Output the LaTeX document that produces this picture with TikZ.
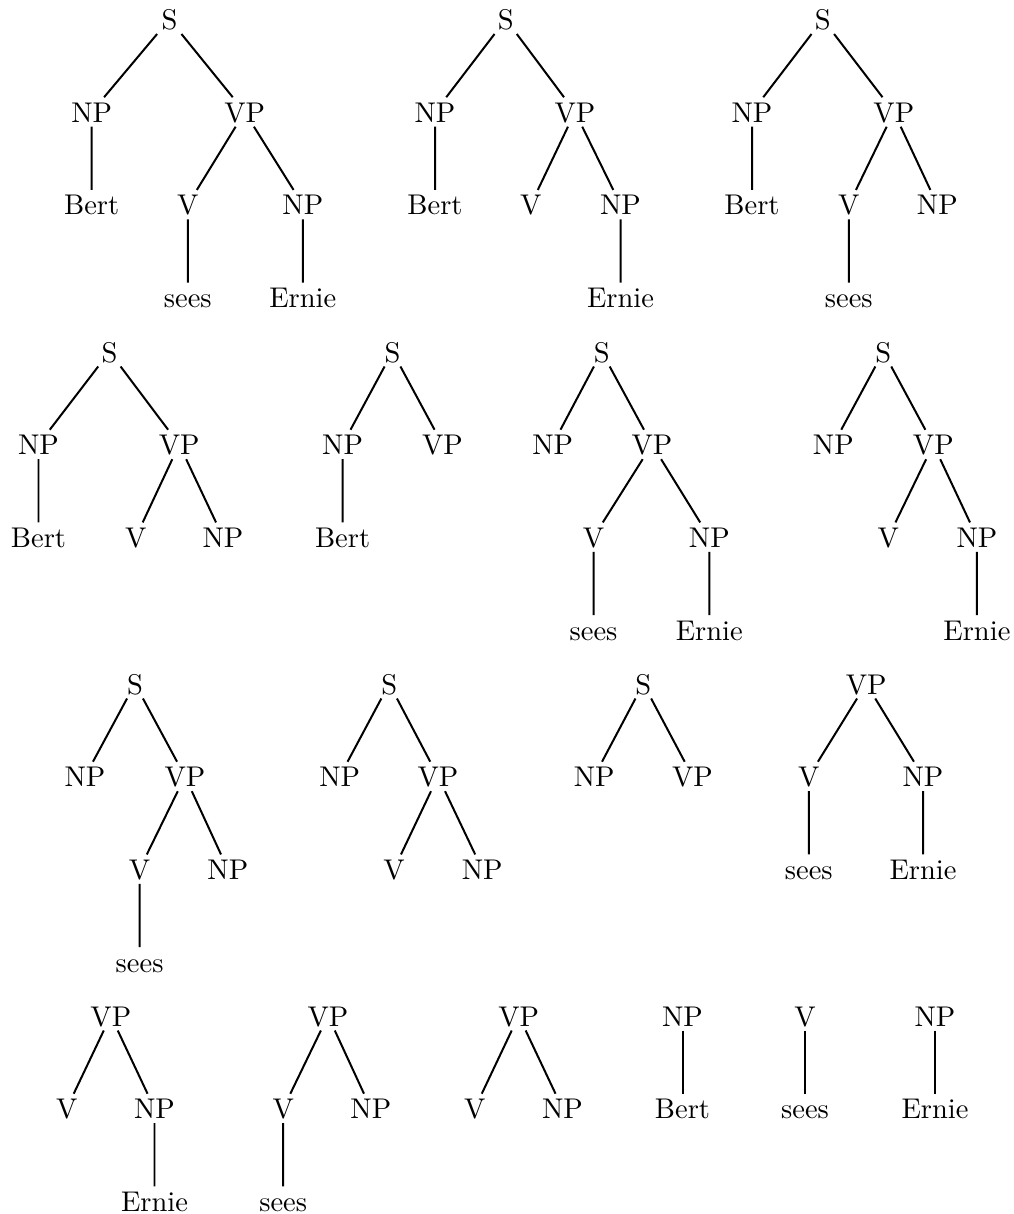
\documentclass[tikz,border=0pt]{standalone}
\begin{document}
\begin{tikzpicture}[x=0.3509pt,y=-0.3509pt,
  tn/.style={anchor=base,inner xsep=6pt,inner ysep=0pt,text height=8.77pt,text depth=1.58pt,outer sep=0pt,font=\fontsize{10}{12}\selectfont},
  br/.style={line width=0.7pt}]
\useasboundingbox (0,0) rectangle (1014,1214);
% ---------- Row 1 ----------
% Tree 1
\node[tn] (a1) at (169.5,29.5) {S};
\node[tn] (a2) at (91.7,122.2) {NP};
\node[tn] (a3) at (244.7,122.2) {VP};
\node[tn] (a4) at (91.7,214.9) {Bert};
\node[tn] (a5) at (187.8,214.9) {V};
\node[tn] (a6) at (302.8,214.9) {NP};
\node[tn] (a7) at (187.8,307.6) {sees};
\node[tn] (a8) at (302.8,307.6) {Ernie};
\draw[br] (a1)--(a2) (a1)--(a3) (a2)--(a4) (a3)--(a5) (a3)--(a6) (a5)--(a7) (a6)--(a8);
% Tree 2
\node[tn] (b1) at (505.8,29.5) {S};
\node[tn] (b2) at (435,122.2) {NP};
\node[tn] (b3) at (575,122.2) {VP};
\node[tn] (b4) at (435,214.9) {Bert};
\node[tn] (b5) at (530.8,214.9) {V};
\node[tn] (b6) at (620.5,214.9) {NP};
\node[tn] (b7) at (620.5,307.6) {Ernie};
\draw[br] (b1)--(b2) (b1)--(b3) (b2)--(b4) (b3)--(b5) (b3)--(b6) (b6)--(b7);
% Tree 3
\node[tn] (c1) at (822.8,29.5) {S};
\node[tn] (c2) at (752,122.2) {NP};
\node[tn] (c3) at (893.8,122.2) {VP};
\node[tn] (c4) at (752,214.9) {Bert};
\node[tn] (c5) at (848.8,214.9) {V};
\node[tn] (c6) at (937.3,214.9) {NP};
\node[tn] (c7) at (848.8,307.6) {sees};
\draw[br] (c1)--(c2) (c1)--(c3) (c2)--(c4) (c3)--(c5) (c3)--(c6) (c5)--(c7);
% ---------- Row 2 ----------
% Tree 4
\node[tn] (d1) at (109.5,362) {S};
\node[tn] (d2) at (38.5,454.7) {NP};
\node[tn] (d3) at (179.2,454.7) {VP};
\node[tn] (d4) at (38.5,547.4) {Bert};
\node[tn] (d5) at (135.8,547.4) {V};
\node[tn] (d6) at (223,547.4) {NP};
\draw[br] (d1)--(d2) (d1)--(d3) (d2)--(d4) (d3)--(d5) (d3)--(d6);
% Tree 5
\node[tn] (e1) at (392.5,362) {S};
\node[tn] (e2) at (342.6,454.7) {NP};
\node[tn] (e3) at (442.5,454.7) {VP};
\node[tn] (e4) at (342.6,547.4) {Bert};
\draw[br] (e1)--(e2) (e1)--(e3) (e2)--(e4);
% Tree 6
\node[tn] (f1) at (601.7,362) {S};
\node[tn] (f2) at (552.7,454.7) {NP};
\node[tn] (f3) at (652,454.7) {VP};
\node[tn] (f4) at (593.5,547.4) {V};
\node[tn] (f5) at (709.3,547.4) {NP};
\node[tn] (f6) at (593.5,640.1) {sees};
\node[tn] (f7) at (709.3,640.1) {Ernie};
\draw[br] (f1)--(f2) (f1)--(f3) (f3)--(f4) (f3)--(f5) (f4)--(f6) (f5)--(f7);
% Tree 7
\node[tn] (g1) at (883.3,362) {S};
\node[tn] (g2) at (833.3,454.7) {NP};
\node[tn] (g3) at (933.3,454.7) {VP};
\node[tn] (g4) at (888.3,547.4) {V};
\node[tn] (g5) at (976.9,547.4) {NP};
\node[tn] (g6) at (976.9,640.1) {Ernie};
\draw[br] (g1)--(g2) (g1)--(g3) (g3)--(g4) (g3)--(g5) (g5)--(g6);
% ---------- Row 3 ----------
% Tree 8
\node[tn] (h1) at (135,694) {S};
\node[tn] (h2) at (85,786.7) {NP};
\node[tn] (h3) at (185,786.7) {VP};
\node[tn] (h4) at (139.6,879.4) {V};
\node[tn] (h5) at (227.8,879.4) {NP};
\node[tn] (h6) at (139.6,972.1) {sees};
\draw[br] (h1)--(h2) (h1)--(h3) (h3)--(h4) (h3)--(h5) (h4)--(h6);
% Tree 9
\node[tn] (i1) at (389.2,694) {S};
\node[tn] (i2) at (339.7,786.7) {NP};
\node[tn] (i3) at (438,786.7) {VP};
\node[tn] (i4) at (394,879.4) {V};
\node[tn] (i5) at (482.2,879.4) {NP};
\draw[br] (i1)--(i2) (i1)--(i3) (i3)--(i4) (i3)--(i5);
% Tree 10
\node[tn] (j1) at (643.3,694) {S};
\node[tn] (j2) at (594.2,786.7) {NP};
\node[tn] (j3) at (692.5,786.7) {VP};
\draw[br] (j1)--(j2) (j1)--(j3);
% Tree 11
\node[tn] (k1) at (866.2,694) {VP};
\node[tn] (k2) at (808.8,786.7) {V};
\node[tn] (k3) at (923,786.7) {NP};
\node[tn] (k4) at (808.8,879.4) {sees};
\node[tn] (k5) at (923,879.4) {Ernie};
\draw[br] (k1)--(k2) (k1)--(k3) (k2)--(k4) (k3)--(k5);
% ---------- Row 4 ----------
% Tree 12
\node[tn] (l1) at (110.8,1026) {VP};
\node[tn] (l2) at (66.7,1118.7) {V};
\node[tn] (l3) at (154.5,1118.7) {NP};
\node[tn] (l4) at (154.5,1211.4) {Ernie};
\draw[br] (l1)--(l2) (l1)--(l3) (l3)--(l4);
% Tree 13
\node[tn] (m1) at (328,1026) {VP};
\node[tn] (m2) at (283.2,1118.7) {V};
\node[tn] (m3) at (370.8,1118.7) {NP};
\node[tn] (m4) at (283.2,1211.4) {sees};
\draw[br] (m1)--(m2) (m1)--(m3) (m2)--(m4);
% Tree 14
\node[tn] (n1) at (518.7,1026) {VP};
\node[tn] (n2) at (474.8,1118.7) {V};
\node[tn] (n3) at (562.5,1118.7) {NP};
\draw[br] (n1)--(n2) (n1)--(n3);
% Tree 15
\node[tn] (o1) at (682.5,1026) {NP};
\node[tn] (o2) at (682.5,1118.7) {Bert};
\draw[br] (o1)--(o2);
% Tree 16
\node[tn] (p1) at (805,1026) {V};
\node[tn] (p2) at (805,1118.7) {sees};
\draw[br] (p1)--(p2);
% Tree 17
\node[tn] (q1) at (935,1026) {NP};
\node[tn] (q2) at (935,1118.7) {Ernie};
\draw[br] (q1)--(q2);
\end{tikzpicture}
\end{document}
